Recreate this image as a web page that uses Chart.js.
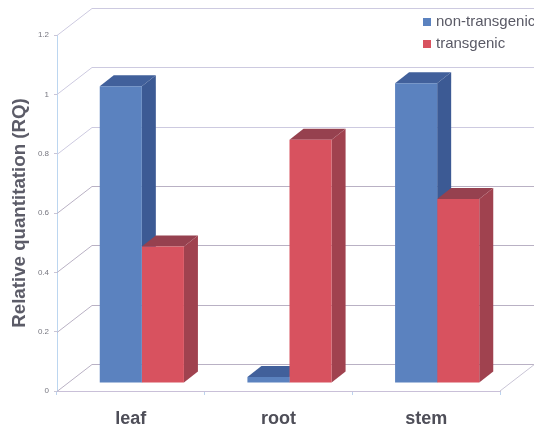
<!DOCTYPE html>
<html>
<head>
<meta charset="utf-8">
<title>Relative quantitation</title>
<script src="https://cdn.jsdelivr.net/npm/chart.js@4/dist/chart.umd.min.js"></script>
<style>
  html, body { margin:0; padding:0; background:#fff; overflow:hidden; }
  canvas { display:block; }
</style>
</head>
<body>
<canvas id="rqChart" width="534" height="429"></canvas>
<script>
// ── Data ─────────────────────────────────────────────
const TISSUES        = ["leaf", "root", "stem"];
const NON_TRANSGENIC = [1.00, 0.02, 1.01];
const TRANSGENIC     = [0.46, 0.82, 0.62];

// ── Fake 3D box settings ─────────────────────────────
const WALL_DX = 35, WALL_DY = 27;   // front plane → back wall
const BAR_DX  = 11, BAR_DY  = 8;    // front plane → bar front face
const BOX_DX  = 14, BOX_DY  = 11;   // bar depth

const FONT = "'Liberation Sans', Arial, sans-serif";

function line(ctx, x1, y1, x2, y2) {
  ctx.beginPath();
  ctx.moveTo(x1, y1);
  ctx.lineTo(x2, y2);
  ctx.stroke();
}

function poly(ctx, pts, fill) {
  ctx.beginPath();
  pts.forEach((p, i) => i ? ctx.lineTo(p[0], p[1]) : ctx.moveTo(p[0], p[1]));
  ctx.closePath();
  ctx.fillStyle = fill;
  ctx.fill();
}

// Back wall, side wall and floor lines
const wallPlugin = {
  id: "wall",
  beforeDatasetsDraw(chart) {
    const { ctx, chartArea: a, scales: { y } } = chart;
    ctx.save();
    ctx.lineWidth = 1;
    y.ticks.forEach(t => {
      const py = Math.round(y.getPixelForValue(t.value)) + 0.5;
      ctx.strokeStyle = t.value <= 0.6 ? "#b9b1c4" : "#cdcae0";
      line(ctx, a.left, py, a.left + WALL_DX, py - WALL_DY);
      line(ctx, a.left + WALL_DX, py - WALL_DY, chart.width, py - WALL_DY);
    });
    ctx.strokeStyle = "#c9c5d6";
    line(ctx, a.right, a.bottom, a.right + WALL_DX, a.bottom - WALL_DY);
    ctx.restore();
  }
};

// Top and side faces go down first, non-transgenic then transgenic, so the
// front faces drawn by the library afterwards cover them correctly
const boxPlugin = {
  id: "box",
  beforeDatasetsDraw(chart) {
    const { ctx } = chart;
    ctx.save();
    ctx.translate(BAR_DX, -BAR_DY);
    chart.data.datasets.forEach((ds, i) => {
      chart.getDatasetMeta(i).data.forEach(bar => {
        const { x, y, base, width } = bar.getProps(["x", "y", "base", "width"], true);
        const l = x - width / 2, r = x + width / 2;
        poly(ctx, [[l, y], [l + BOX_DX, y - BOX_DY], [r + BOX_DX, y - BOX_DY], [r, y]], ds.topColor);
        poly(ctx, [[r, y], [r + BOX_DX, y - BOX_DY], [r + BOX_DX, base - BOX_DY], [r, base]], ds.sideColor);
      });
    });
    ctx.restore();
  },
  // front faces share the same shift onto the floor
  beforeDatasetDraw(chart) {
    chart.ctx.save();
    chart.ctx.translate(BAR_DX, -BAR_DY);
  },
  afterDatasetDraw(chart) {
    chart.ctx.restore();
  }
};

// Legend sits over the top right of the back wall
const keyPlugin = {
  id: "key",
  afterDraw(chart) {
    const { ctx } = chart;
    ctx.save();
    ctx.font = "15px " + FONT;
    ctx.textBaseline = "middle";
    chart.data.datasets.forEach((ds, i) => {
      const cy = 22 + i * 22;
      ctx.fillStyle = ds.backgroundColor;
      ctx.fillRect(423, cy - 4, 8, 8);
      ctx.fillStyle = "#5a5a66";
      ctx.fillText(ds.label, 436, cy);
    });
    ctx.restore();
  }
};

new Chart(document.getElementById("rqChart"), {
  type: "bar",
  data: {
    labels: TISSUES,
    datasets: [
      { label:"non-transgenic", data:NON_TRANSGENIC,
        backgroundColor:"#5b82bf", topColor:"#41609b", sideColor:"#3c5a94" },
      { label:"transgenic", data:TRANSGENIC,
        backgroundColor:"#d8525f", topColor:"#96414f", sideColor:"#a0424f" },
    ]
  },
  options: {
    responsive:false,
    animation:false,
    layout:{ padding:{ top:35, right:34, left:0, bottom:0 } },
    barPercentage:1,
    categoryPercentage:0.57,
    plugins:{ legend:{ display:false }, tooltip:{ enabled:false } },
    scales:{
      x:{
        afterFit: s => { s.height = 38; },
        border:{ color:"#c9c0d8" },
        grid:{ drawOnChartArea:false, color:"#bcd3ee", tickLength:4 },
        ticks:{ color:"#4e4e58", padding:13, font:{ family:FONT, size:18, weight:"bold" } },
      },
      y:{
        min:0, max:1.2,
        afterFit: s => { s.width = 57; },
        border:{ color:"#bcd6f0" },
        grid:{ drawOnChartArea:false, color:"#c9c5d6", tickLength:3 },
        ticks:{ stepSize:0.2, color:"#777780", padding:5, font:{ family:FONT, size:8 },
                callback: v => String(+v.toFixed(1)) },
        title:{ display:true, text:"Relative quantitation (RQ)", color:"#5c5c68", padding:{ top:9, bottom:0 },
                font:{ family:FONT, size:18.7, weight:"bold" } },
      }
    }
  },
  plugins:[wallPlugin, boxPlugin, keyPlugin]
});
</script>
</body>
</html>
